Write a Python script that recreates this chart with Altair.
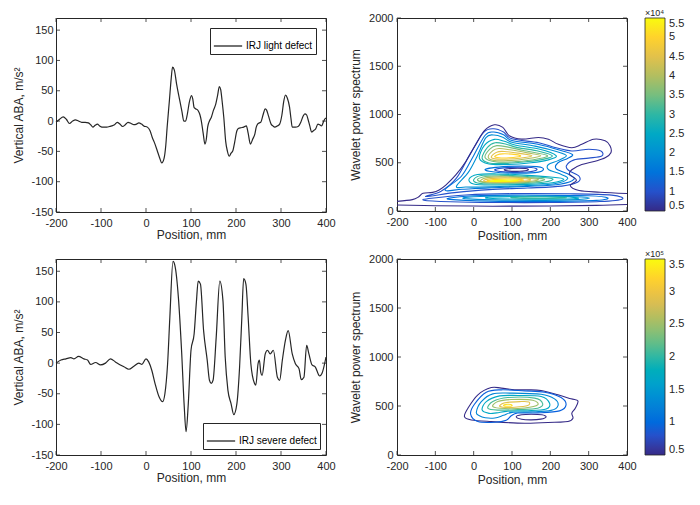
import altair as alt
import pandas as pd

# ---------------- line data ----------------
LIGHT_X = [-200, -192, -184, -177, -170, -163, -157, -150, -143, -135, -128, -123, -118, -113, -108,
           -103, -98, -92, -87, -81, -76, -70, -64, -58, -52, -46, -40, -33, -27, -21, -16, -10, -5,
           3, 9, 14, 20, 25, 30, 35, 40, 44, 47, 52, 56, 59, 63, 68, 75, 80, 84, 88, 92, 96, 101,
           104, 107, 111, 116, 120, 123, 127, 131, 134, 137, 141, 145, 150, 155, 159, 163, 166,
           169, 173, 177, 181, 185, 189, 193, 197, 202, 206, 211, 217, 223, 227, 232, 237, 242,
           245, 248, 252, 255, 260, 265, 268, 272, 278, 282, 286, 292, 297, 302, 306, 310, 314,
           319, 322, 325, 332, 338, 344, 349, 353, 357, 360, 364, 368, 372, 377, 382, 386, 390,
           394, 397, 400]
LIGHT_Y = [-2, 3, 7, 3, -4, 0, 2, 0, -2, -2, -3, -6, -10, -7, -5,
           -8, -10, -10, -10, -9, -8, -6, -2, -5, -9, -6, -2, -4, -6, -5, -3, -5, -8,
           -10, -16, -27, -38, -49, -60, -69, -62, -40, -10, 34, 70, 89, 84, 61, 34, 15, 0, 0, 12, 30, 42,
           36, 22, 20, 17, 10, 0, -20, -38, -30, -10, 0, 6, 18, 28, 42, 57, 52,
           34, 5, -33, -50, -58, -53, -49, -35, -16, -12, -11, -10, -8, -20, -38, -30, -21,
           -10, -5, -3, -2, 10, 20, 18, 9, -5, -8, -10, -8, -5, 10, 32, 43, 38,
           23, 5, -10, -10, -9, -2, 8, 12, 10, 3, -8, -18, -16, -13, -5, -6, -8,
           -2, 3, 5]

SEVERE_X = [-200, -189, -178, -167, -160, -150, -138, -130, -123, -112, -101, -90, -79, -68, -57,
            -49, -38, -27, -16, -9, 0, 6, 13, 20, 29, 37, 42, 48, 53, 60, 64, 72, 79, 85, 89, 94,
            100, 107, 112, 116, 121, 128, 136, 141, 145, 149, 156, 164, 171, 176, 182, 189, 195,
            202, 208, 213, 217, 222, 227, 233, 241, 244, 249, 252, 255, 258, 265, 270, 276, 283,
            292, 297, 303, 310, 316, 325, 332, 340, 345, 351, 357, 362, 369, 376, 386, 391, 400]
SEVERE_Y = [0, 5, 7, 9, 7, 11, 7, 5, -2, 1, -3, 0, 7, 2, -3,
            -6, -10, -5, 0, -2, 7, 2, -12, -33, -55, -63, -50, -1, 75, 166, 160, 107, 21, -71, -112, -66,
            21, 48, 100, 134, 129, 53, 5, -28, -33, -28, 42, 134, 102, 10, -44, -66, -84,
            -66, -6, 75, 138, 129, 75, -1, -33, -36, -1, 5, -15, -20, 15, 21, 15, 21,
            -23, -28, 5, 38, 53, 15, -1, -9, -27, -23, 29, 15, -3, -6, -21, -17, 10]

X_TICKS = [-200, -100, 0, 100, 200, 300, 400]
ABA_TICKS = [-150, -100, -50, 0, 50, 100, 150]
WPS_TICKS = [0, 500, 1000, 1500, 2000]
CB_TOP_TICKS = [0.5, 1, 1.5, 2, 2.5, 3, 3.5, 4, 4.5, 5, 5.5]
CB_BOT_TICKS = [0.5, 1, 1.5, 2, 2.5, 3, 3.5]

PARULA = ["#352a87", "#0f5cdd", "#1481d6", "#06a4ca", "#2eb7a4",
          "#87bf77", "#d1bb59", "#fec832", "#f9fb0e"]

# ---------------- contour lines, light defect (x mm, scale) ----------------
TR_OUTER = [(-200, 100), (-160, 118), (-143, 148), (-132, 183), (-107, 193), (-90, 218), (-72, 271),
            (-46, 376), (-20, 516), (6, 692), (28, 832), (54, 893), (76, 867), (93, 780), (125, 745),
            (169, 762), (195, 744), (221, 691), (256, 656), (282, 691), (313, 744), (343, 727),
            (356, 674), (358, 604), (343, 551), (317, 516), (282, 481), (256, 428), (250, 380),
            (268, 320), (252, 262), (275, 212), (330, 195), (400, 182)]
TR_BOTTOM = [(-200, 62), (-100, 55), (50, 50), (200, 52), (320, 58), (400, 68)]

TR_PEANUT_10 = [(-125, 150), (-85, 205), (-45, 340), (-8, 600), (26, 815), (52, 852), (78, 818),
                (100, 748), (170, 708), (212, 658), (256, 622), (300, 640), (332, 622), (334, 570),
                (300, 548), (262, 530), (242, 470), (248, 420), (275, 360), (272, 300), (230, 258),
                (140, 238), (40, 222), (-50, 190)]
TR_PEANUT_15 = [(-75, 218), (-32, 360), (-2, 560), (30, 785), (52, 818), (78, 790), (100, 730),
                (170, 690), (230, 625), (258, 585), (245, 545), (220, 500), (215, 440), (245, 385),
                (262, 330), (225, 278), (140, 255), (40, 240), (-30, 225)]
TR_PEANUT_20 = [(-45, 255), (-14, 400), (8, 560), (32, 760), (52, 788), (76, 765), (100, 712),
                (160, 672), (220, 612), (242, 572), (220, 522), (195, 482), (195, 430), (225, 385),
                (245, 335), (210, 283), (130, 262), (40, 250), (-20, 248)]

TR_TROUGH_05 = [(80, 428), (100, 442), (135, 440), (142, 426), (120, 412), (92, 413)]
TR_TROUGH_10 = [(55, 428), (95, 452), (150, 450), (165, 428), (140, 404), (80, 405)]
TR_TROUGH_15 = [(30, 430), (90, 462), (165, 460), (182, 430), (160, 398), (70, 397)]

TR_UP_25 = [(15, 545), (28, 680), (54, 742), (80, 722), (110, 682), (170, 642), (215, 575),
            (195, 530), (150, 500), (90, 482), (40, 487)]
TR_UP_30 = [(22, 548), (36, 660), (56, 708), (85, 692), (115, 657), (170, 620), (205, 572),
            (178, 532), (130, 507), (80, 494), (40, 498)]
TR_UP_35 = [(30, 552), (42, 640), (60, 677), (90, 662), (130, 627), (192, 575), (163, 537),
            (110, 512), (60, 507)]
TR_UP_40 = [(38, 556), (50, 625), (66, 647), (95, 634), (140, 602), (175, 572), (140, 542),
            (90, 522), (55, 522)]
TR_UP_45 = [(46, 560), (60, 610), (80, 617), (120, 597), (152, 572), (120, 547), (80, 537), (56, 540)]
TR_UP_50 = [(55, 565), (75, 592), (110, 584), (122, 568), (92, 552), (66, 552)]

TR_LOW_25 = [(-12, 330), (10, 378), (60, 384), (130, 372), (200, 352), (235, 330), (205, 292),
             (140, 276), (50, 270), (0, 280)]
TR_LOW_30 = [(0, 325), (20, 368), (70, 372), (140, 358), (205, 335), (185, 300), (130, 285),
             (50, 280), (10, 290)]
TR_LOW_35 = [(10, 320), (30, 358), (80, 362), (150, 345), (185, 328), (160, 302), (100, 290), (40, 290)]
TR_LOW_40 = [(18, 316), (40, 348), (90, 352), (150, 336), (168, 322), (130, 302), (70, 296), (30, 300)]
TR_LOW_45 = [(26, 313), (50, 338), (100, 342), (145, 328), (140, 312), (90, 302), (45, 303)]
TR_LOW_50 = [(34, 310), (60, 328), (110, 330), (130, 318), (90, 306), (50, 305)]
TR_LOW_55 = [(42, 309), (75, 320), (115, 318), (100, 309), (60, 307)]

TR_BAND_10 = [(-130, 112), (-60, 96), (50, 88), (200, 88), (330, 98), (388, 125), (360, 165),
              (250, 178), (100, 180), (-20, 166), (-110, 132)]
TR_BAND_15 = [(-62, 120), (40, 102), (200, 100), (320, 110), (350, 135), (300, 158), (150, 165),
              (20, 160), (-52, 140)]
TR_BAND_20 = [(-22, 128), (100, 112), (250, 115), (302, 135), (250, 151), (100, 156), (0, 148)]
TR_BAND_25 = [(38, 132), (150, 122), (270, 130), (232, 147), (120, 150), (50, 145)]
TR_BAND_30 = [(100, 136), (180, 130), (242, 137), (190, 145), (120, 145)]

TR_LINES = [
    ("outer", 0.5, False, TR_OUTER), ("bottom", 0.5, False, TR_BOTTOM),
    ("p10", 1.0, True, TR_PEANUT_10), ("p15", 1.5, True, TR_PEANUT_15), ("p20", 2.0, True, TR_PEANUT_20),
    ("t05", 0.5, True, TR_TROUGH_05), ("t10", 1.0, True, TR_TROUGH_10), ("t15", 1.5, True, TR_TROUGH_15),
    ("u25", 2.5, True, TR_UP_25), ("u30", 3.0, True, TR_UP_30), ("u35", 3.5, True, TR_UP_35),
    ("u40", 4.0, True, TR_UP_40), ("u45", 4.5, True, TR_UP_45), ("u50", 5.0, True, TR_UP_50),
    ("l25", 2.5, True, TR_LOW_25), ("l30", 3.0, True, TR_LOW_30), ("l35", 3.5, True, TR_LOW_35),
    ("l40", 4.0, True, TR_LOW_40), ("l45", 4.5, True, TR_LOW_45), ("l50", 5.0, True, TR_LOW_50),
    ("l55", 5.5, True, TR_LOW_55),
    ("b10", 1.0, True, TR_BAND_10), ("b15", 1.5, True, TR_BAND_15), ("b20", 2.0, True, TR_BAND_20),
    ("b25", 2.5, True, TR_BAND_25), ("b30", 3.0, True, TR_BAND_30),
]

# ---------------- contour lines, severe defect ----------------
BR_OUTER = [(-24, 392), (-15, 477), (11, 614), (46, 688), (72, 682), (107, 665), (141, 665), (176, 658),
            (220, 614), (254, 573), (272, 552), (265, 477), (256, 426), (259, 375), (246, 341),
            (211, 334), (133, 324), (46, 341), (-6, 358)]
BR_TROUGH = [(111, 390), (125, 410), (150, 416), (178, 410), (189, 390), (175, 366), (150, 358), (125, 365)]
BR_09 = [(-8, 416), (2, 518), (33, 641), (72, 665), (133, 654), (185, 641), (228, 586), (241, 511),
         (224, 450), (167, 430), (115, 428), (98, 400), (85, 355), (55, 334), (11, 341)]
BR_13 = [(7, 436), (20, 545), (50, 624), (98, 631), (176, 620), (211, 573), (220, 504), (202, 455),
         (150, 440), (100, 435), (78, 405), (55, 378), (30, 380), (15, 400)]
BR_17 = [(22, 460), (33, 545), (68, 603), (115, 607), (176, 597), (198, 528), (189, 470), (141, 452),
         (89, 448), (60, 430), (40, 425)]
BR_21 = [(37, 477), (50, 545), (89, 586), (159, 580), (180, 525), (167, 477), (115, 464), (63, 458)]
BR_25 = [(50, 494), (63, 545), (98, 566), (154, 559), (167, 511), (133, 480), (81, 474)]
BR_29 = [(68, 504), (85, 535), (120, 545), (144, 542), (141, 504), (107, 487), (76, 488)]
BR_33 = [(78, 505), (85, 517), (97, 515), (100, 503), (90, 497)]

BR_LINES = [
    ("outer", 0.5, True, BR_OUTER), ("trough", 0.5, True, BR_TROUGH), ("c09", 0.9, True, BR_09),
    ("c13", 1.3, True, BR_13), ("c17", 1.7, True, BR_17), ("c21", 2.1, True, BR_21),
    ("c25", 2.5, True, BR_25), ("c29", 2.9, True, BR_29), ("c33", 3.3, True, BR_33),
]

AX = "#262626"
FONT = "Liberation Sans"
TICK_LEN = 4
PLAIN = "'' + datum.value"


def lines_df(lines, closed):
    rows = []
    for name, level, is_closed, pts in lines:
        if is_closed != closed:
            continue
        for i, (x, y) in enumerate(pts):
            rows.append({"x": x, "y": y, "level": level, "ring": name, "i": i})
    return pd.DataFrame(rows)


def x_axis(label_pad, title_pad):
    return alt.Axis(values=X_TICKS, title="Position, mm", labelPadding=label_pad, titlePadding=title_pad,
                    labelExpr=PLAIN)


def y_axis(values, title, label_pad, title_pad):
    return alt.Axis(values=values, title=title, labelPadding=label_pad, titlePadding=title_pad,
                    labelExpr=PLAIN)


def frame_ticks(xvals, yvals, xdom, ydom, w, h, xaxis, yaxis):
    tx = pd.DataFrame({"x": xvals})
    ty = pd.DataFrame({"y": yvals})
    xs = alt.X("x:Q", scale=alt.Scale(domain=xdom, nice=False, zero=False), axis=xaxis)
    ys = alt.Y("y:Q", scale=alt.Scale(domain=ydom, nice=False, zero=False), axis=yaxis)
    bx = alt.Chart(tx).mark_rule(color=AX, strokeWidth=0.8)
    by = alt.Chart(ty).mark_rule(color=AX, strokeWidth=0.8)
    return [
        bx.encode(x=xs, y=alt.value(h), y2=alt.value(h - TICK_LEN)),
        bx.encode(x=xs, y=alt.value(0), y2=alt.value(TICK_LEN)),
        by.encode(y=ys, x=alt.value(0), x2=alt.value(TICK_LEN)),
        by.encode(y=ys, x=alt.value(w), x2=alt.value(w - TICK_LEN)),
    ]


def line_panel(xs, ys, name, legend_orient, legend_offset, w, h):
    df = pd.DataFrame({"x": xs, "y": ys, "series": name})
    xdom, ydom = [-200, 400], [-150, 170]
    xa = x_axis(5, 1)
    ya = y_axis(ABA_TICKS, "Vertical ABA, m/s²", 3, 5)
    line = alt.Chart(df).mark_line(strokeWidth=1.2, interpolate="monotone").encode(
        x=alt.X("x:Q", scale=alt.Scale(domain=xdom, nice=False, zero=False), axis=xa),
        y=alt.Y("y:Q", scale=alt.Scale(domain=ydom, nice=False, zero=False), axis=ya),
        color=alt.Color("series:N", scale=alt.Scale(range=[AX]),
                        legend=alt.Legend(title=None, orient=legend_orient, offset=legend_offset,
                                          symbolType="stroke", symbolSize=800, symbolStrokeWidth=1.3,
                                          labelFontSize=10, labelColor="#000", strokeColor=AX,
                                          fillColor="white", padding=3, labelOffset=3)),
    )
    return alt.layer(line, *frame_ticks(X_TICKS, ABA_TICKS, xdom, ydom, w, h, xa, ya)).properties(
        width=w, height=h)


def contour_panel(lines, lo, hi, cb_ticks, cb_title, w, h):
    xdom, ydom = [-200, 400], [0, 2000]
    stops = [lo + (hi - lo) * k / (len(PARULA) - 1) for k in range(len(PARULA))]
    legend = alt.Legend(title=cb_title, orient="none", legendX=w + 18, legendY=-9,
                        direction="vertical", gradientLength=h, gradientThickness=20,
                        values=cb_ticks, labelExpr=PLAIN, labelOverlap=False,
                        labelFontSize=11, labelColor=AX, titleFontSize=9, titleFontWeight="normal",
                        titleColor=AX, titlePadding=0, titleAnchor="start", gradientStrokeColor=AX,
                        gradientStrokeWidth=0.8, padding=0, labelOffset=4)
    color = alt.Color("level:Q", scale=alt.Scale(domain=stops, range=PARULA), legend=legend)
    xa = x_axis(5, 3)
    ya = y_axis(WPS_TICKS, "Wavelet power spectrum", 4, 6)
    xenc = alt.X("x:Q", scale=alt.Scale(domain=xdom, nice=False, zero=False), axis=xa)
    yenc = alt.Y("y:Q", scale=alt.Scale(domain=ydom, nice=False, zero=False), axis=ya)
    layers = []
    closed = lines_df(lines, True)
    layers.append(alt.Chart(closed).mark_line(strokeWidth=1.1, interpolate="cardinal-closed", clip=True)
                  .encode(x=xenc, y=yenc, color=color, detail="ring:N", order="i:Q"))
    opened = lines_df(lines, False)
    if len(opened):
        layers.append(alt.Chart(opened).mark_line(strokeWidth=1.1, interpolate="cardinal", clip=True)
                      .encode(x=xenc, y=yenc, color=color, detail="ring:N", order="i:Q"))
    layers += frame_ticks(X_TICKS, WPS_TICKS, xdom, ydom, w, h, xa, ya)
    return alt.layer(*layers).properties(width=w, height=h)


tl = line_panel(LIGHT_X, LIGHT_Y, "IRJ light defect", "top-right", 10, 270, 194)
tr = contour_panel(TR_LINES, 0.5, 5.5, CB_TOP_TICKS, "×10⁴", 230, 193)
bl = line_panel(SEVERE_X, SEVERE_Y, "IRJ severe defect", "bottom-right", 6, 270, 196)
br = contour_panel(BR_LINES, 0.5, 3.5, CB_BOT_TICKS, "×10⁵", 230, 196)

chart = alt.concat(tl, tr, bl, br, columns=2, spacing={"row": 47, "column": 71}, bounds="flush").resolve_scale(
    color="independent"
).properties(
    padding={"left": 4, "top": 0, "right": 5, "bottom": 5}
).configure(font=FONT).configure_view(stroke=AX, strokeWidth=1).configure_axis(
    labelFontSize=11, titleFontSize=12, titleFontWeight="normal", labelColor=AX, titleColor=AX,
    grid=False, ticks=False, domain=False, labelFlush=False, labelFont=FONT, titleFont=FONT
).configure_legend(labelFont=FONT, titleFont=FONT)

chart.save("out.html", embed_options={"renderer": "svg", "actions": False})
